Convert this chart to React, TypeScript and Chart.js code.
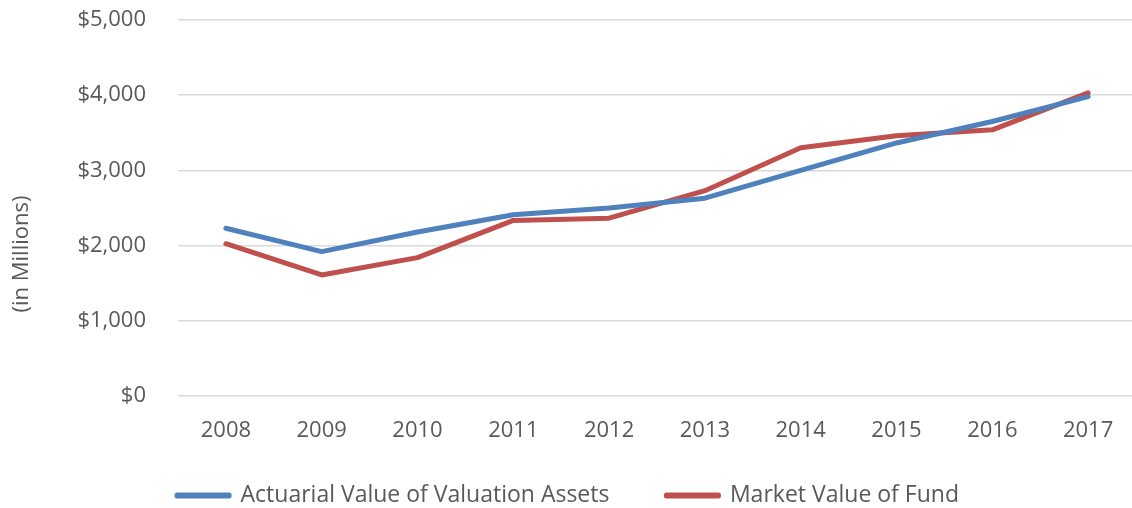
import React, { useEffect, useRef } from "react";
import { Chart, registerables } from "chart.js";

Chart.register(...registerables);

const years = ["2008", "2009", "2010", "2011", "2012", "2013", "2014", "2015", "2016", "2017"];
const actuarialValue = [2230, 1920, 2180, 2410, 2500, 2630, 3000, 3365, 3650, 3980];
const marketValue = [2025, 1610, 1840, 2335, 2365, 2730, 3300, 3460, 3540, 4030];
const yTicks = [0, 1000, 2000, 3000, 4000, 5000];
const yTitle = "(in Millions)";

const FONT = "'Open Sans', Lato, sans-serif";
const GREY = "#595959";

const yTitlePlugin = {
  id: "yTitlePlugin",
  afterLayout(chart: any) {
    const lg = chart.legend;
    if (lg) {
      lg.top -= 17;
      lg.height = lg.bottom - lg.top;
    }
  },
  afterDraw(chart: any) {
    const ctx = chart.ctx;
    ctx.save();
    ctx.translate(22, 254);
    ctx.rotate(-Math.PI / 2);
    ctx.font = `22px ${FONT}`;
    ctx.fillStyle = GREY;
    ctx.textAlign = "center";
    ctx.textBaseline = "middle";
    ctx.fillText(yTitle, 0, 0);
    ctx.restore();
  },
};

export default function App() {
  const ref = useRef<HTMLCanvasElement | null>(null);
  useEffect(() => {
    document.body.style.margin = "0";
    const ctx = ref.current!;
    const chart = new Chart(ctx, {
      type: "line",
      data: {
        labels: years,
        datasets: [
          {
            label: "Actuarial Value of Valuation Assets",
            data: actuarialValue,
            borderColor: "#4f81bd",
            backgroundColor: "#4f81bd",
            borderWidth: 5,
            pointRadius: 0,
            tension: 0,
            borderCapStyle: "round",
            borderJoinStyle: "round",
          },
          {
            label: "Market Value of Fund",
            data: marketValue,
            borderColor: "#c0504d",
            backgroundColor: "#c0504d",
            borderWidth: 5,
            pointRadius: 0,
            tension: 0,
            borderCapStyle: "round",
            borderJoinStyle: "round",
          },
        ],
      },
      plugins: [yTitlePlugin],
      options: {
        animation: false,
        responsive: false,
        maintainAspectRatio: false,
        layout: { autoPadding: false, padding: { top: 20, bottom: 0, left: 0, right: 4 } },
        plugins: {
          tooltip: { enabled: false },
          legend: {
            position: "bottom",
            maxHeight: 64,
            labels: {
              color: GREY,
              font: { family: FONT, size: 23 },
              boxWidth: 52,
              boxHeight: 1,
              padding: 57,
            },
          },
        },
        scales: {
          x: {
            offset: true,
            grid: { display: false, drawTicks: false },
            border: { display: false },
            ticks: { color: GREY, font: { family: FONT, size: 22 }, padding: 22, autoSkip: false, maxRotation: 0 },
            afterFit: (s: any) => {
              s.height = 48;
              s.paddingLeft = 0;
              s.paddingRight = 0;
            },
          },
          y: {
            min: 0,
            max: 5000,
            afterBuildTicks: (s: any) => {
              s.ticks = yTicks.map((v) => ({ value: v }));
            },
            grid: { color: "#d9d9d9", lineWidth: 1.5, drawTicks: false },
            border: { display: false },
            ticks: {
              color: GREY,
              font: { family: FONT, size: 22 },
              padding: 32,
              callback: (v: any) => "$" + Number(v).toLocaleString("en-US"),
            },
            afterFit: (s: any) => {
              s.width = 178;
              s.paddingTop = 0;
              s.paddingBottom = 0;
            },
          },
        },
      },
    });
    return () => chart.destroy();
  }, []);
  return (
    <div style={{ position: "fixed", left: 0, top: 0, width: 1132, height: 508, overflow: "hidden" }}>
      <canvas ref={ref} width={1140} height={508} style={{ width: 1140, height: 508, display: "block" }} />
    </div>
  );
}
